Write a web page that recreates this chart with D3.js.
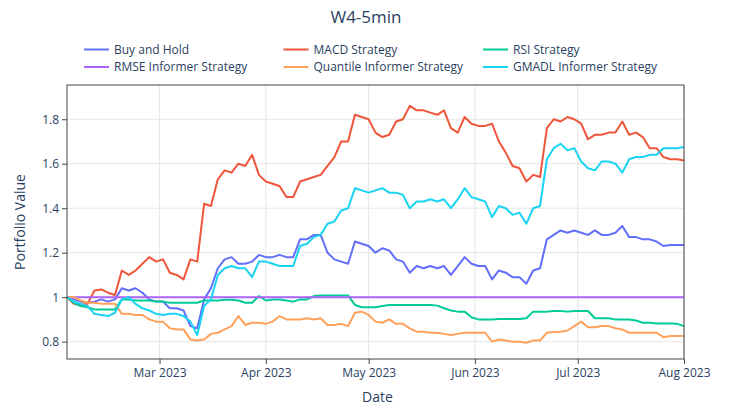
<!DOCTYPE html>
<html>
<head>
<meta charset="utf-8">
<script src="https://cdn.jsdelivr.net/npm/d3@7"></script>
<style>
  body { margin: 0; background: #fff; }
  text { font-family: "Open Sans", verdana, arial, sans-serif; }
</style>
</head>
<body>
<svg id="chart" width="732" height="408"></svg>
<script>
// ----- data (sampled every 2 days from 2023-02-02 to 2023-08-01) -----
const startDate = new Date(2023, 1, 2);
const endDate = new Date(2023, 7, 1);

const buyHold = [
  1.00, 0.99, 0.98, 0.975, 0.98, 0.99, 0.98, 0.99, 1.04, 1.03,
  1.04, 1.02, 0.99, 0.98, 0.98, 0.95, 0.95, 0.94, 0.87, 0.86,
  0.99, 1.04, 1.13, 1.17, 1.18, 1.15, 1.15, 1.16, 1.19, 1.18,
  1.18, 1.19, 1.18, 1.18, 1.26, 1.26, 1.28, 1.28, 1.20, 1.17,
  1.16, 1.15, 1.25, 1.24, 1.23, 1.20, 1.22, 1.21, 1.17, 1.16,
  1.11, 1.14, 1.13, 1.14, 1.13, 1.14, 1.10, 1.14, 1.18, 1.15,
  1.14, 1.14, 1.08, 1.12, 1.11, 1.09, 1.09, 1.06, 1.12, 1.13,
  1.26, 1.28, 1.30, 1.29, 1.30, 1.29, 1.28, 1.30, 1.28, 1.28,
  1.29, 1.32, 1.27, 1.27, 1.26, 1.26, 1.25, 1.23, 1.235, 1.235,
  1.235
];
const macd = [
  1.00, 0.97, 0.965, 0.97, 1.03, 1.035, 1.02, 1.01, 1.12, 1.10,
  1.12, 1.15, 1.18, 1.16, 1.17, 1.11, 1.10, 1.08, 1.17, 1.16,
  1.42, 1.41, 1.53, 1.57, 1.56, 1.60, 1.59, 1.64, 1.55, 1.52,
  1.51, 1.50, 1.45, 1.45, 1.52, 1.53, 1.54, 1.55, 1.59, 1.63,
  1.70, 1.70, 1.82, 1.81, 1.80, 1.74, 1.72, 1.73, 1.79, 1.80,
  1.86, 1.84, 1.84, 1.83, 1.82, 1.84, 1.76, 1.74, 1.81, 1.78,
  1.77, 1.77, 1.78, 1.70, 1.65, 1.59, 1.58, 1.52, 1.55, 1.54,
  1.76, 1.80, 1.79, 1.81, 1.80, 1.78, 1.71, 1.73, 1.73, 1.74,
  1.74, 1.79, 1.73, 1.74, 1.72, 1.67, 1.67, 1.63, 1.62, 1.62,
  1.615
];
const rsi = [
  1.00, 0.975, 0.96, 0.955, 0.945, 0.945, 0.945, 0.945, 0.99, 0.99,
  0.985, 0.985, 0.985, 0.98, 0.98, 0.975, 0.975, 0.975, 0.975, 0.975,
  0.985, 0.985, 0.985, 0.988, 0.988, 0.985, 0.975, 0.975, 1.005, 0.985,
  0.99, 0.99, 0.985, 0.98, 0.99, 0.99, 1.005, 1.008, 1.008, 1.008,
  1.008, 1.008, 0.965, 0.955, 0.955, 0.955, 0.96, 0.965, 0.965, 0.965,
  0.965, 0.965, 0.965, 0.965, 0.962, 0.95, 0.94, 0.935, 0.935, 0.91,
  0.90, 0.90, 0.90, 0.902, 0.902, 0.902, 0.902, 0.905, 0.935, 0.935,
  0.935, 0.938, 0.938, 0.935, 0.938, 0.938, 0.938, 0.905, 0.905, 0.905,
  0.90, 0.90, 0.90, 0.895, 0.885, 0.885, 0.882, 0.882, 0.882, 0.88,
  0.87
];
const rmse = [1.0, 1.0]; // flat over the whole period
const quantile = [
  1.00, 1.00, 0.985, 0.975, 0.975, 0.97, 0.97, 0.97, 0.925, 0.925,
  0.92, 0.92, 0.90, 0.89, 0.89, 0.86, 0.855, 0.855, 0.81, 0.805,
  0.81, 0.835, 0.84, 0.855, 0.87, 0.915, 0.875, 0.885, 0.885, 0.88,
  0.89, 0.915, 0.90, 0.90, 0.90, 0.905, 0.90, 0.905, 0.875, 0.875,
  0.88, 0.87, 0.93, 0.935, 0.92, 0.89, 0.885, 0.90, 0.88, 0.88,
  0.86, 0.845, 0.845, 0.84, 0.84, 0.835, 0.83, 0.835, 0.84, 0.84,
  0.84, 0.84, 0.80, 0.81, 0.805, 0.80, 0.80, 0.795, 0.805, 0.805,
  0.84, 0.843, 0.845, 0.85, 0.87, 0.89, 0.865, 0.865, 0.87, 0.87,
  0.86, 0.855, 0.84, 0.84, 0.84, 0.84, 0.84, 0.82, 0.825, 0.825,
  0.825
];
const gmadl = [
  1.00, 0.98, 0.97, 0.96, 0.925, 0.92, 0.915, 0.93, 0.99, 1.00,
  0.97, 0.95, 0.94, 0.925, 0.92, 0.925, 0.925, 0.915, 0.89, 0.83,
  0.96, 0.99, 1.10, 1.13, 1.14, 1.13, 1.13, 1.09, 1.16, 1.16,
  1.15, 1.14, 1.14, 1.14, 1.23, 1.24, 1.27, 1.28, 1.33, 1.34,
  1.39, 1.40, 1.49, 1.48, 1.47, 1.48, 1.49, 1.47, 1.47, 1.46,
  1.40, 1.43, 1.43, 1.44, 1.43, 1.44, 1.40, 1.44, 1.49, 1.45,
  1.44, 1.43, 1.36, 1.41, 1.40, 1.37, 1.38, 1.33, 1.40, 1.41,
  1.62, 1.67, 1.69, 1.66, 1.67, 1.61, 1.58, 1.57, 1.61, 1.61,
  1.60, 1.56, 1.62, 1.63, 1.63, 1.64, 1.64, 1.67, 1.67, 1.67,
  1.675
];

const seriesNames = ["Buy and Hold", "MACD Strategy", "RSI Strategy",
  "RMSE Informer Strategy", "Quantile Informer Strategy", "GMADL Informer Strategy"];
const seriesColors = ["#636efa", "#EF553B", "#00cc96", "#ab63fa", "#FFA15A", "#19d3f3"];
const yTicks = [0.8, 1, 1.2, 1.4, 1.6, 1.8];

// sampling grid
const grid = d3.timeDay.range(startDate, d3.timeDay.offset(endDate, 1), 2);
const series = [buyHold, macd, rsi, rmse, quantile, gmadl].map((vals, i) => ({
  name: seriesNames[i],
  color: seriesColors[i],
  points: vals.length === 2
    ? [[startDate, vals[0]], [endDate, vals[1]]]
    : vals.map((v, j) => [grid[j], v])
}));

// ----- layout -----
const svg = d3.select("#chart");
const width = +svg.attr("width");
const height = +svg.attr("height");
const margin = { top: 85, right: 48, bottom: 49, left: 67 };
const plotW = width - margin.left - margin.right;
const plotH = height - margin.top - margin.bottom;
const textColor = "#2a3f5f";
const axisColor = "#444";

const x = d3.scaleTime().domain([startDate, endDate]).range([0, plotW]);
const y = d3.scaleLinear().domain([0.722, 1.954]).range([plotH, 0]);

const g = svg.append("g").attr("transform", `translate(${margin.left},${margin.top})`);

// gridlines
g.append("g").selectAll("line")
  .data(yTicks).join("line")
  .attr("x1", 0).attr("x2", plotW)
  .attr("y1", d => y(d)).attr("y2", d => y(d))
  .attr("stroke", "#e6e6e6").attr("stroke-width", 1);
g.append("g").selectAll("line")
  .data(x.ticks(d3.timeMonth.every(1))).join("line")
  .attr("x1", d => x(d)).attr("x2", d => x(d))
  .attr("y1", 0).attr("y2", plotH)
  .attr("stroke", "#e6e6e6").attr("stroke-width", 1);

// lines
const lineGen = d3.line().x(d => x(d[0])).y(d => y(d[1]));
g.append("g").attr("clip-path", null).selectAll("path")
  .data(series).join("path")
  .attr("d", d => lineGen(d.points))
  .attr("fill", "none")
  .attr("stroke", d => d.color)
  .attr("stroke-width", 2)
  .attr("stroke-linejoin", "round");

// frame
g.append("rect")
  .attr("x", 0).attr("y", 0).attr("width", plotW).attr("height", plotH)
  .attr("fill", "none").attr("stroke", axisColor).attr("stroke-width", 1);

// axes
const xAxis = g.append("g").attr("transform", `translate(0,${plotH})`)
  .call(d3.axisBottom(x).ticks(d3.timeMonth.every(1)).tickFormat(d3.timeFormat("%b %Y")).tickSize(5).tickPadding(4));
const yAxis = g.append("g")
  .call(d3.axisLeft(y).tickValues(yTicks).tickFormat(d => String(+d.toFixed(1))).tickSize(5).tickPadding(3));
[xAxis, yAxis].forEach(a => {
  a.select(".domain").remove();
  a.selectAll(".tick line").attr("stroke", axisColor);
  a.selectAll(".tick text").attr("fill", textColor).attr("font-size", 12)
    .style("font-family", '"Open Sans", verdana, arial, sans-serif');
});

// titles
svg.append("text")
  .attr("x", width / 2).attr("y", 23)
  .attr("text-anchor", "middle")
  .attr("font-size", 17).attr("fill", textColor)
  .text("W4-5min");
svg.append("text")
  .attr("x", margin.left + plotW / 2 + 2).attr("y", 402)
  .attr("text-anchor", "middle")
  .attr("font-size", 14).attr("fill", textColor)
  .text("Date");
svg.append("text")
  .attr("transform", `translate(25,${margin.top + plotH / 2}) rotate(-90)`)
  .attr("text-anchor", "middle")
  .attr("font-size", 14).attr("fill", textColor)
  .text("Portfolio Value");

// legend (3 columns, 2 rows)
const legend = svg.append("g");
series.forEach((s, i) => {
  const col = i % 3, row = Math.floor(i / 3);
  const lx = 84 + col * 199.5, ly = 49.5 + row * 17.5;
  legend.append("line")
    .attr("x1", lx).attr("x2", lx + 25).attr("y1", ly).attr("y2", ly)
    .attr("stroke", s.color).attr("stroke-width", 2);
  legend.append("text")
    .attr("x", lx + 30).attr("y", ly).attr("dy", "0.35em")
    .attr("font-size", 12).attr("fill", textColor)
    .text(s.name);
});
</script>
</body>
</html>
